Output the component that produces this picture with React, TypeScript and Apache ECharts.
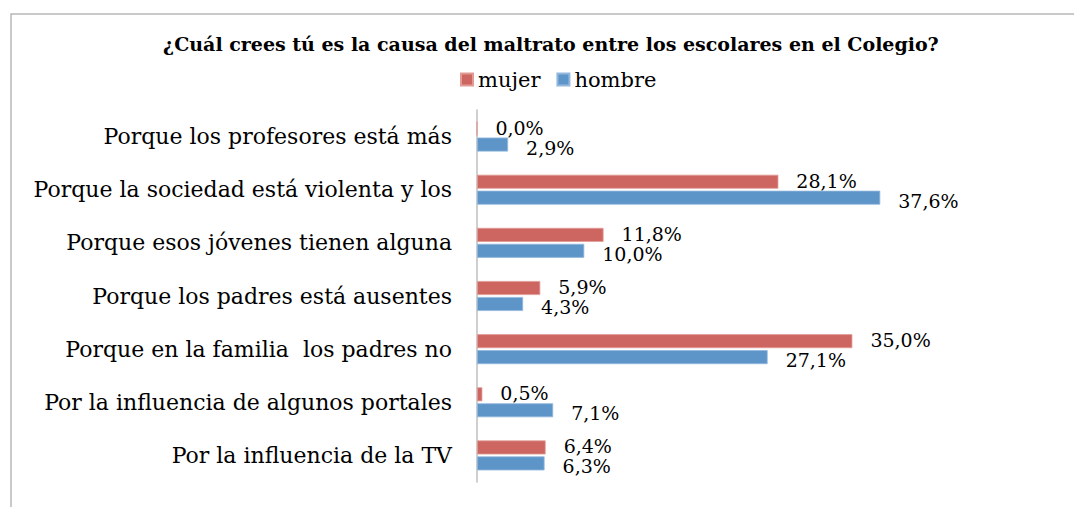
import React, { useEffect, useRef } from "react";
import * as echarts from "echarts";

const categories = [
  "Porque los profesores está más",
  "Porque la sociedad está violenta y los",
  "Porque esos jóvenes tienen alguna",
  "Porque los padres está ausentes",
  "Porque en la familia  los padres no",
  "Por la influencia de algunos portales",
  "Por la influencia de la TV",
];
const mujer = [0.0, 28.1, 11.8, 5.9, 35.0, 0.5, 6.4];
const hombre = [2.9, 37.6, 10.0, 4.3, 27.1, 7.1, 6.3];
const titleText = "¿Cuál crees tú es la causa del maltrato entre los escolares en el Colegio?";

const FONT = "DejaVu Serif";

export default function App() {
  const ref = useRef<HTMLDivElement>(null);
  useEffect(() => {
    const chart = echarts.init(ref.current!, null, { renderer: "svg" });
    const fmt = (p: any) => p.value.toFixed(1).replace(".", ",") + "%";
    chart.setOption({
      animation: false,
      title: {
        text: titleText,
        left: 158,
        top: 29,
        textStyle: { fontFamily: FONT, fontSize: 19, fontWeight: "bold", color: "#000" },
      },
      legend: {
        top: 64,
        left: 455,
        itemWidth: 12,
        itemHeight: 12,
        itemGap: 16,
        icon: "rect",
        textStyle: { fontFamily: FONT, fontSize: 21, color: "#000" },
        data: ["mujer", "hombre"],
      },
      graphic: [
        {
          type: "rect",
          shape: { x: 11, y: 14, width: 1200, height: 700 },
          style: { fill: "none", stroke: "#B8B8B8", lineWidth: 1.5 },
          silent: true,
        },
      ],
      grid: { left: 477, right: 168, top: 110, bottom: 25, containLabel: false },
      xAxis: {
        type: "value",
        min: 0,
        max: 40,
        show: false,
      },
      yAxis: {
        type: "category",
        inverse: true,
        data: categories,
        axisLine: { show: true, lineStyle: { color: "#BFBFBF", width: 1.5 } },
        axisTick: { show: false },
        axisLabel: { fontFamily: FONT, fontSize: 22, color: "#000", margin: 25 },
      },
      series: [
        {
          name: "mujer",
          type: "bar",
          data: mujer,
          barWidth: 14,
          barGap: "14%",
          itemStyle: { color: "#CD6661", borderColor: "#E29A95", borderWidth: 0.8 },
          label: {
            show: true,
            position: "right",
            distance: 18,
            formatter: fmt,
            fontFamily: FONT,
            fontSize: 19,
            color: "#000",
            offset: [0, -1],
          },
        },
        {
          name: "hombre",
          type: "bar",
          data: hombre,
          barWidth: 14,
          barGap: "14%",
          itemStyle: { color: "#5E95C8", borderColor: "#93B8DD", borderWidth: 0.8 },
          label: {
            show: true,
            position: "right",
            distance: 18,
            formatter: fmt,
            fontFamily: FONT,
            fontSize: 19,
            color: "#000",
            offset: [0, 3],
          },
        },
      ],
    });
    return () => chart.dispose();
  }, []);
  return (
    <div
      ref={ref}
      style={{ position: "fixed", left: 0, top: 0, width: 1074, height: 507, background: "#fff" }}
    />
  );
}
